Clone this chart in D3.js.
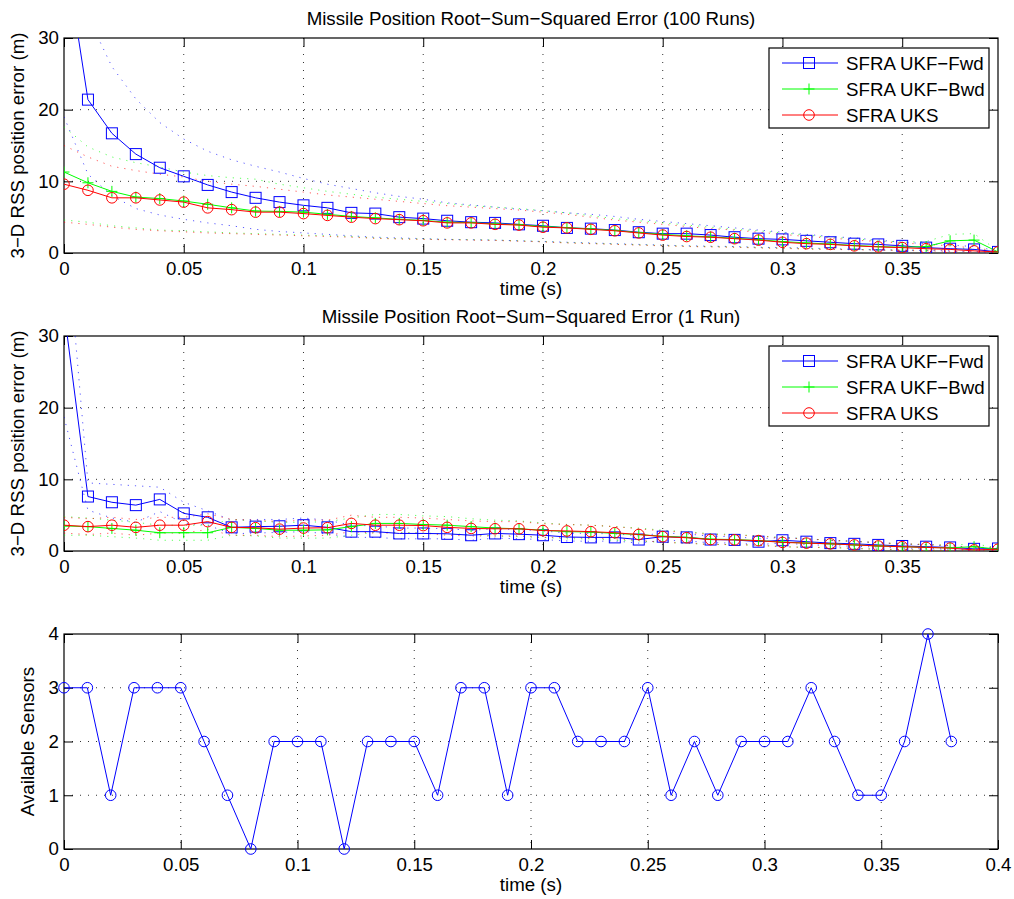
<!DOCTYPE html>
<html>
<head>
<meta charset="utf-8">
<script src="https://cdn.jsdelivr.net/npm/d3@7"></script>
<style>
body { margin: 0; background: #fff; }
svg { display: block; font-family: "Liberation Sans", Arial, Helvetica, sans-serif; }
</style>
</head>
<body>
<main></main>
<script>
const width = 1014;
const height = 899;

// time samples (s)
const times = [0, 0.01, 0.02, 0.03, 0.04, 0.05, 0.06, 0.07, 0.08, 0.09,
               0.1, 0.11, 0.12, 0.13, 0.14, 0.15, 0.16, 0.17, 0.18, 0.19,
               0.2, 0.21, 0.22, 0.23, 0.24, 0.25, 0.26, 0.27, 0.28, 0.29,
               0.3, 0.31, 0.32, 0.33, 0.34, 0.35, 0.36, 0.37, 0.38, 0.39];

const seriesNames = ["SFRA UKF\u2212Fwd", "SFRA UKF\u2212Bwd", "SFRA UKS"];
const titles = ["Missile Position Root\u2212Sum\u2212Squared Error (100 Runs)",
                "Missile Position Root\u2212Sum\u2212Squared Error (1 Run)"];

// 100 runs
const fwd100 = [43, 21.4, 16.7, 13.8, 11.9, 10.7, 9.5, 8.5, 7.7, 7.1, 6.65, 6.3, 5.6, 5.5, 5.0, 4.8, 4.5, 4.3, 4.2, 4.0, 3.8, 3.5, 3.4, 3.2, 2.9, 2.7, 2.7, 2.5, 2.2, 2.0, 1.9, 1.7, 1.5, 1.3, 1.2, 1.0, 0.75, 0.6, 0.5, 0.15];
const bwd100 = [11.3, 9.8, 8.6, 7.8, 7.6, 7.25, 6.8, 6.3, 5.85, 5.8, 5.7, 5.4, 5.1, 4.9, 4.7, 4.55, 4.3, 4.25, 4.05, 3.95, 3.7, 3.55, 3.35, 3.15, 2.85, 2.6, 2.4, 2.25, 2.05, 1.85, 1.6, 1.4, 1.25, 1.05, 0.9, 0.8, 0.9, 1.7, 1.8, 0.15];
const uks100 = [9.6, 8.75, 7.7, 7.7, 7.4, 7.1, 6.3, 6.05, 5.7, 5.7, 5.5, 5.25, 5.0, 4.8, 4.65, 4.5, 4.2, 4.2, 4.0, 3.9, 3.6, 3.5, 3.3, 3.1, 2.8, 2.5, 2.3, 2.2, 2.0, 1.8, 1.5, 1.3, 1.2, 1.0, 0.85, 0.75, 0.6, 0.5, 0.3, 0.15];
const fwdUp100 = [67, 33, 26, 21.5, 18.2, 15.9, 14.2, 13.0, 12.1, 11.3, 10.4, 9.6, 9.0, 8.4, 7.9, 7.5, 7.0, 6.7, 6.4, 6.1, 5.9, 5.6, 5.4, 5.1, 4.7, 4.4, 4.1, 3.8, 3.5, 3.2, 2.9, 2.6, 2.3, 2.1, 1.8, 1.5, 1.3, 1.1, 0.9, 0.3];
const fwdLo100 = [19, 11.0, 8.0, 6.2, 5.3, 4.7, 4.2, 3.8, 3.3, 3.0, 2.8, 2.6, 2.4, 2.2, 2.1, 2.0, 1.9, 1.85, 1.8, 1.7, 1.6, 1.5, 1.4, 1.3, 1.2, 1.1, 1.0, 0.95, 0.9, 0.8, 0.75, 0.7, 0.6, 0.5, 0.45, 0.4, 0.35, 0.3, 0.2, 0.05];
const bwdUp100 = [17.6, 14.8, 13.4, 12.6, 12.0, 11.3, 10.8, 10.5, 10.3, 9.6, 9.1, 8.6, 8.2, 7.8, 7.5, 7.2, 6.9, 6.6, 6.4, 6.2, 5.9, 5.6, 5.2, 4.8, 4.5, 4.2, 3.9, 3.6, 3.3, 3.1, 2.8, 2.5, 2.2, 2.0, 1.7, 1.5, 1.6, 2.6, 2.7, 0.3];
const bwdLo100 = [4.6, 4.3, 3.8, 3.5, 3.2, 3.1, 2.95, 2.8, 2.7, 2.6, 2.5, 2.4, 2.3, 2.1, 2.0, 1.95, 1.9, 1.85, 1.8, 1.7, 1.6, 1.45, 1.35, 1.25, 1.15, 1.05, 0.95, 0.9, 0.85, 0.75, 0.7, 0.6, 0.55, 0.5, 0.45, 0.4, 0.4, 0.6, 0.7, 0.05];
const uksUp100 = [15.0, 13.4, 12.1, 11.5, 11.0, 10.6, 10.0, 9.6, 9.3, 8.9, 8.5, 8.1, 7.8, 7.5, 7.2, 6.9, 6.6, 6.4, 6.2, 6.0, 5.7, 5.4, 5.0, 4.6, 4.3, 4.0, 3.7, 3.4, 3.2, 2.9, 2.6, 2.3, 2.1, 1.8, 1.6, 1.4, 1.2, 1.0, 0.7, 0.3];
const uksLo100 = [4.3, 4.0, 3.6, 3.3, 3.1, 2.95, 2.8, 2.7, 2.6, 2.5, 2.4, 2.3, 2.2, 2.05, 1.95, 1.9, 1.85, 1.8, 1.75, 1.65, 1.55, 1.4, 1.3, 1.2, 1.1, 1.0, 0.9, 0.85, 0.8, 0.7, 0.65, 0.55, 0.5, 0.45, 0.4, 0.35, 0.3, 0.25, 0.15, 0.05];

// 1 run
const fwd1 = [33.6, 7.6, 6.8, 6.4, 7.2, 5.25, 4.7, 3.3, 3.4, 3.45, 3.6, 3.3, 2.7, 2.7, 2.45, 2.45, 2.4, 2.2, 2.45, 2.35, 2.2, 1.95, 1.9, 1.9, 1.6, 2.0, 1.9, 1.6, 1.55, 1.3, 1.5, 1.3, 1.1, 1.0, 0.85, 0.7, 0.6, 0.5, 0.3, 0.35];
const bwd1 = [3.5, 3.4, 3.15, 2.9, 2.55, 2.55, 2.55, 3.3, 3.15, 2.9, 2.9, 2.95, 3.4, 3.85, 3.85, 3.7, 3.6, 3.4, 3.2, 3.1, 2.9, 2.7, 2.65, 2.45, 2.3, 2.05, 1.9, 1.65, 1.6, 1.45, 1.25, 1.1, 1.0, 0.85, 0.7, 0.6, 0.5, 0.45, 0.6, 0.25];
const uks1 = [3.6, 3.4, 3.6, 3.3, 3.6, 3.6, 4.1, 3.3, 3.25, 3.05, 3.2, 3.25, 3.85, 3.6, 3.6, 3.55, 3.3, 3.15, 3.1, 3.1, 2.85, 2.8, 2.7, 2.55, 2.3, 2.0, 1.85, 1.6, 1.55, 1.45, 1.2, 1.1, 1.0, 0.85, 0.7, 0.6, 0.5, 0.4, 0.15, 0.25];
const fwdUp1 = [48, 9.5, 9.3, 9.1, 8.9, 6.8, 5.6, 4.3, 4.4, 4.4, 4.6, 4.3, 3.6, 3.5, 3.2, 3.2, 3.1, 2.9, 3.1, 3.0, 2.8, 2.5, 2.45, 2.4, 2.1, 2.5, 2.4, 2.05, 2.0, 1.7, 1.9, 1.7, 1.45, 1.35, 1.15, 1.0, 0.85, 0.75, 0.5, 0.5];
const fwdLo1 = [18.7, 5.7, 4.6, 4.0, 5.5, 3.9, 3.6, 2.4, 2.5, 2.6, 2.7, 2.4, 1.9, 1.9, 1.7, 1.7, 1.7, 1.5, 1.8, 1.7, 1.6, 1.4, 1.35, 1.4, 1.1, 1.5, 1.4, 1.15, 1.1, 0.9, 1.1, 0.9, 0.75, 0.65, 0.55, 0.4, 0.35, 0.25, 0.1, 0.2];
const bwdUp1 = [4.8, 4.6, 4.3, 4.0, 3.6, 3.6, 3.6, 4.4, 4.2, 4.0, 4.0, 4.1, 4.6, 5.1, 5.1, 4.9, 4.8, 4.5, 4.3, 4.2, 3.9, 3.7, 3.6, 3.4, 3.2, 2.9, 2.7, 2.4, 2.3, 2.1, 1.9, 1.7, 1.5, 1.35, 1.15, 1.0, 0.9, 0.8, 1.0, 0.45];
const bwdLo1 = [2.2, 2.2, 2.0, 1.8, 1.5, 1.5, 1.5, 2.2, 2.1, 1.8, 1.8, 1.8, 2.2, 2.6, 2.6, 2.5, 2.4, 2.3, 2.1, 2.0, 1.9, 1.7, 1.7, 1.5, 1.4, 1.2, 1.1, 0.9, 0.9, 0.8, 0.6, 0.5, 0.5, 0.35, 0.25, 0.2, 0.1, 0.1, 0.2, 0.05];
const uksUp1 = [4.7, 4.5, 4.7, 4.4, 4.7, 4.7, 5.2, 4.4, 4.3, 4.1, 4.3, 4.3, 5.0, 4.7, 4.7, 4.6, 4.4, 4.2, 4.1, 4.1, 3.8, 3.7, 3.6, 3.4, 3.1, 2.8, 2.6, 2.3, 2.2, 2.1, 1.8, 1.7, 1.5, 1.35, 1.15, 1.0, 0.9, 0.75, 0.45, 0.45];
const uksLo1 = [2.5, 2.3, 2.5, 2.2, 2.5, 2.5, 3.0, 2.2, 2.2, 2.0, 2.1, 2.2, 2.7, 2.5, 2.5, 2.5, 2.2, 2.1, 2.1, 2.1, 1.9, 1.9, 1.8, 1.7, 1.5, 1.2, 1.1, 0.9, 0.9, 0.8, 0.6, 0.5, 0.5, 0.35, 0.25, 0.2, 0.1, 0.05, 0.0, 0.05];

// available sensors
const sensorTimes = times.slice(0, 39);
const sensors = [3, 3, 1, 3, 3, 3, 2, 1, 0, 2, 2, 2, 0, 2, 2, 2, 1, 3, 3, 1, 3, 3, 2, 2, 2, 3, 1, 2, 1, 2, 2, 2, 3, 2, 1, 1, 2, 4, 2];

const xTicks = [0, 0.05, 0.1, 0.15, 0.2, 0.25, 0.3, 0.35, 0.4];
const errTicks = [0, 10, 20, 30];
const sensorTicks = [0, 1, 2, 3, 4];

const colors = ["#0000ff", "#00ff00", "#ff0000"];
const markers = ["square", "plus", "circle"];
const axLeft = 64;
const axRight = 998;
const fontSize = 18.7;

const createCanvas = () => {
    return d3.select("main")
             .append("svg")
             .attr("width", width)
             .attr("height", height);
};

const drawMarker = (g, type, cx, cy, color) => {
    if (type === "square") {
        g.append("rect")
         .attr("x", cx - 5.5).attr("y", cy - 5.5)
         .attr("width", 11).attr("height", 11)
         .attr("fill", "none").attr("stroke", color);
    } else if (type === "circle") {
        g.append("circle")
         .attr("cx", cx).attr("cy", cy).attr("r", 5.3)
         .attr("fill", "none").attr("stroke", color);
    } else {
        g.append("path")
         .attr("d", `M${cx - 5.5},${cy}H${cx + 5.5}M${cx},${cy - 5.5}V${cy + 5.5}`)
         .attr("stroke", color);
    }
};

const drawFrame = (svg, x, y, top, bottom, yTickVals, xTickVals, id) => {
    const fmt = d3.format("~g");
    const g = svg.append("g");

    // grid
    g.selectAll(".vgrid")
     .data(xTickVals.filter((d) => x(d) > axLeft + 1 && x(d) < axRight - 1))
     .enter().append("line")
     .attr("x1", (d) => x(d)).attr("x2", (d) => x(d))
     .attr("y1", top).attr("y2", bottom)
     .attr("stroke", "#333").attr("stroke-dasharray", "1,7");
    g.selectAll(".hgrid")
     .data(yTickVals.slice(1, -1))
     .enter().append("line")
     .attr("x1", axLeft).attr("x2", axRight)
     .attr("y1", (d) => y(d)).attr("y2", (d) => y(d))
     .attr("stroke", "#333").attr("stroke-dasharray", "1,7");

    const xVisible = xTickVals.filter((d) => d <= x.domain()[1] + 1e-9);

    g.append("g")
     .attr("transform", `translate(0,${bottom})`)
     .call(d3.axisBottom(x).tickValues(xVisible).tickSize(-9).tickPadding(9).tickFormat(fmt));
    g.append("g")
     .attr("transform", `translate(0,${top})`)
     .call(d3.axisTop(x).tickValues(xVisible).tickSize(-9).tickFormat(""));
    g.append("g")
     .attr("transform", `translate(${axLeft},0)`)
     .call(d3.axisLeft(y).tickValues(yTickVals).tickSize(-9).tickPadding(5).tickFormat(fmt));
    g.append("g")
     .attr("transform", `translate(${axRight},0)`)
     .call(d3.axisRight(y).tickValues(yTickVals).tickSize(-9).tickFormat(""));

    g.selectAll(".domain").remove();
    g.selectAll(".tick line").attr("stroke", "#000");
    g.selectAll(".tick text")
     .attr("fill", "#000")
     .style("font-size", fontSize + "px")
     .style("font-family", "'Liberation Sans', Arial, sans-serif");

    g.append("rect")
     .attr("x", axLeft).attr("y", top)
     .attr("width", axRight - axLeft).attr("height", bottom - top)
     .attr("fill", "none").attr("stroke", "#000").attr("stroke-width", 1.2);

    svg.append("clipPath").attr("id", id)
       .append("rect")
       .attr("x", axLeft).attr("y", top)
       .attr("width", axRight - axLeft).attr("height", bottom - top);
    return g;
};

const drawErrorPanel = (svg, top, title, means, bounds) => {
    const bottom = top + 215;
    const x = d3.scaleLinear().domain([0, 0.39]).range([axLeft, axRight]);
    const y = d3.scaleLinear().domain([0, 30]).range([bottom, top]);
    const clipId = "clip" + top;

    drawFrame(svg, x, y, top, bottom, errTicks, xTicks, clipId);

    const line = d3.line()
                   .x((d, i) => x(times[i]))
                   .y((d) => y(d));

    const plotArea = svg.append("g").attr("clip-path", `url(#${clipId})`);

    // dotted +/- bounds
    bounds.forEach((pair, s) => {
        pair.forEach((vals) => {
            plotArea.append("path")
                    .attr("d", line(vals))
                    .attr("fill", "none")
                    .attr("stroke", colors[s])
                    .attr("stroke-opacity", 0.65)
                    .attr("stroke-dasharray", "1.2,6");
        });
    });

    means.forEach((vals, s) => {
        plotArea.append("path")
                .attr("d", line(vals))
                .attr("fill", "none")
                .attr("stroke", colors[s]);
        const mg = plotArea.append("g");
        vals.forEach((v, i) => drawMarker(mg, markers[s], x(times[i]), y(v), colors[s]));
    });

    svg.append("text")
       .attr("x", (axLeft + axRight) / 2)
       .attr("y", top - 13)
       .attr("text-anchor", "middle")
       .style("font-size", fontSize + "px")
       .text(title);

    svg.append("text")
       .attr("x", (axLeft + axRight) / 2)
       .attr("y", bottom + 42)
       .attr("text-anchor", "middle")
       .style("font-size", fontSize + "px")
       .text("time (s)");

    svg.append("text")
       .attr("transform", `translate(24,${(top + bottom) / 2}) rotate(-90)`)
       .attr("text-anchor", "middle")
       .style("font-size", fontSize + "px")
       .text("3\u2212D RSS position error (m)");

    // legend
    const lg = svg.append("g").attr("transform", `translate(769,${top + 10})`);
    lg.append("rect")
      .attr("width", 220).attr("height", 80)
      .attr("fill", "#fff").attr("stroke", "#000").attr("stroke-width", 1.2);
    seriesNames.forEach((name, s) => {
        const cy = 15 + s * 26;
        lg.append("line")
          .attr("x1", 13).attr("x2", 69)
          .attr("y1", cy).attr("y2", cy)
          .attr("stroke", colors[s]);
        drawMarker(lg, markers[s], 40, cy, colors[s]);
        lg.append("text")
          .attr("x", 77).attr("y", cy + 6.5)
          .style("font-size", fontSize + "px")
          .text(name);
    });
};

const drawSensorPanel = (svg, top) => {
    const bottom = top + 215;
    const x = d3.scaleLinear().domain([0, 0.4]).range([axLeft, axRight]);
    const y = d3.scaleLinear().domain([0, 4]).range([bottom, top]);

    drawFrame(svg, x, y, top, bottom, sensorTicks, xTicks, "clipSensors");

    const line = d3.line()
                   .x((d, i) => x(sensorTimes[i]))
                   .y((d) => y(d));

    svg.append("path")
       .attr("d", line(sensors))
       .attr("fill", "none")
       .attr("stroke", colors[0]);
    const mg = svg.append("g");
    sensors.forEach((v, i) => drawMarker(mg, "circle", x(sensorTimes[i]), y(v), colors[0]));

    svg.append("text")
       .attr("x", (axLeft + axRight) / 2)
       .attr("y", bottom + 42)
       .attr("text-anchor", "middle")
       .style("font-size", fontSize + "px")
       .text("time (s)");

    svg.append("text")
       .attr("transform", `translate(34,${(top + bottom) / 2}) rotate(-90)`)
       .attr("text-anchor", "middle")
       .style("font-size", fontSize + "px")
       .text("Available Sensors");
};

const driver = () => {
    const svg = createCanvas();
    drawErrorPanel(svg, 38, titles[0],
                   [fwd100, bwd100, uks100],
                   [[fwdUp100, fwdLo100], [bwdUp100, bwdLo100], [uksUp100, uksLo100]]);
    drawErrorPanel(svg, 336, titles[1],
                   [fwd1, bwd1, uks1],
                   [[fwdUp1, fwdLo1], [bwdUp1, bwdLo1], [uksUp1, uksLo1]]);
    drawSensorPanel(svg, 634);
};

driver();
</script>
</body>
</html>
